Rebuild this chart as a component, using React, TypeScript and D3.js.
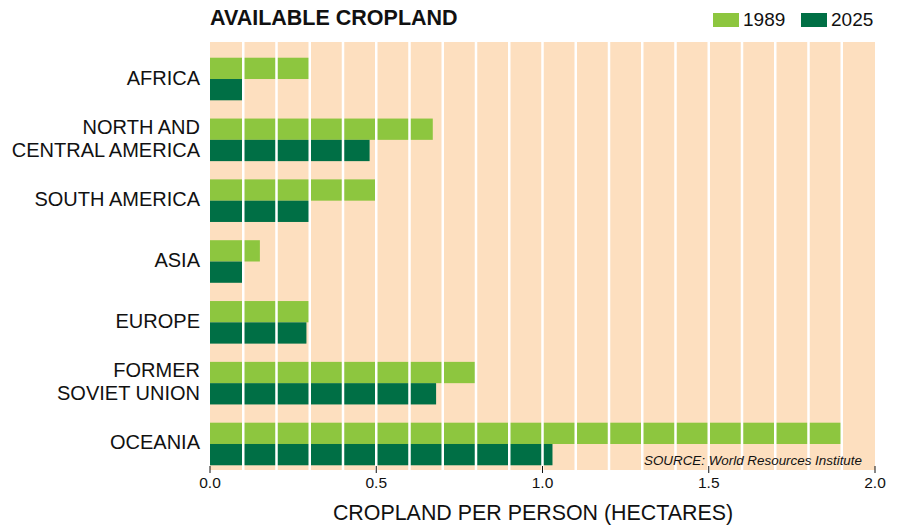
import * as d3 from "d3";

const regions = ["AFRICA", "NORTH AND\nCENTRAL AMERICA", "SOUTH AMERICA", "ASIA", "EUROPE", "FORMER\nSOVIET UNION", "OCEANIA"];
const years = ["1989", "2025"];
const values1989 = [0.3, 0.67, 0.5, 0.15, 0.3, 0.8, 1.9];
const values2025 = [0.1, 0.48, 0.3, 0.1, 0.29, 0.68, 1.03];
const xTicks = [0, 0.5, 1.0, 1.5, 2.0];

const colors: Record<string, string> = { "1989": "#8dc63f", "2025": "#006f45" };
const font = "Arial, 'Liberation Sans', sans-serif";

export default function App() {
  const W = 897, H = 525;
  const left = 210, right = 875, top = 42, bottom = 470;

  const x = d3.scaleLinear().domain([0, 2]).range([left, right]);
  const y = d3.scaleBand<string>().domain(regions).range([48.6, 474.4]).paddingInner(0.3).paddingOuter(0.15);
  const sub = d3.scaleBand<string>().domain(years).range([0, y.bandwidth()]);

  const rows = regions.map((r, i) => ({ region: r, "1989": values1989[i], "2025": values2025[i] }));
  const grid = d3.range(1, 20).map(d => d / 10);

  return (
    <svg width={W} height={H} style={{ position: "absolute", left: 0, top: 0 }} fontFamily={font}>
      <text x={left} y={25} fontSize={21.5} fontWeight="bold" fill="#111">AVAILABLE CROPLAND</text>

      {years.map((yr, i) => (
        <g key={yr} transform={`translate(${713 + i * 88},13)`}>
          <rect width={26} height={14} fill={colors[yr]} />
          <text x={30} y={13} fontSize={19} fill="#111">{yr}</text>
        </g>
      ))}

      <rect x={left} y={top} width={right - left} height={bottom - top} fill="#fddfbf" />

      {rows.map(r => (
        <g key={r.region} transform={`translate(0,${y(r.region)})`}>
          {years.map(yr => (
            <rect key={yr} x={x(0)} y={sub(yr)} width={x((r as any)[yr]) - x(0)} height={sub.bandwidth()} fill={colors[yr]} />
          ))}
        </g>
      ))}

      {grid.map(g => (
        <line key={g} x1={x(g)} x2={x(g)} y1={top} y2={bottom} stroke="#fff" strokeWidth={2.5} />
      ))}

      {regions.map(r => {
        const lines = r.split("\n");
        const cy = (y(r) ?? 0) + y.bandwidth() / 2;
        return (
          <text key={r} x={200} textAnchor="end" fontSize={20} fill="#111">
            {lines.map((l, i) => (
              <tspan key={i} x={200} y={cy + 5.5 + (i - (lines.length - 1) / 2) * 23}>{l}</tspan>
            ))}
          </text>
        );
      })}

      <text x={862} y={465} textAnchor="end" fontSize={13.4} fontStyle="italic" fill="#111">SOURCE: World Resources Institute</text>

      {xTicks.map(t => (
        <g key={t} transform={`translate(${x(t)},0)`}>
          <line y1={466} y2={473} stroke="#111" strokeWidth={1} />
          <text y={488} textAnchor="middle" fontSize={15.5} fill="#111">{t.toFixed(1)}</text>
        </g>
      ))}

      <text x={533} y={520} textAnchor="middle" fontSize={21.4} fill="#111">CROPLAND PER PERSON (HECTARES)</text>
    </svg>
  );
}
